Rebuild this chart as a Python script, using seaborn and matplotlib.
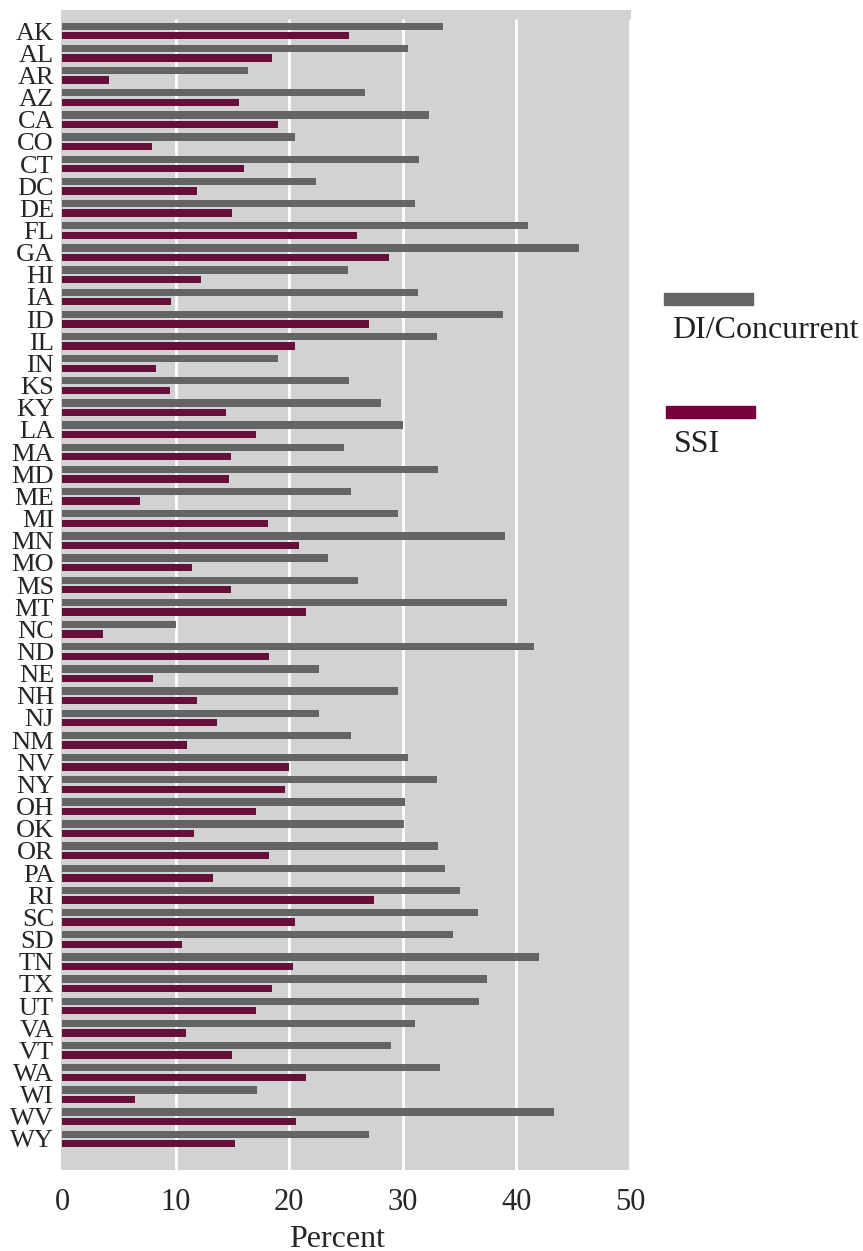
import matplotlib
matplotlib.use("Agg")
import matplotlib.pyplot as plt
from matplotlib.patches import Rectangle
import pandas as pd
import seaborn as sns

sns.set_theme(style="white")
plt.rcParams["font.family"] = ["Liberation Serif", "DejaVu Serif"]

states = ["AK", "AL", "AR", "AZ", "CA", "CO", "CT", "DC", "DE", "FL", "GA", "HI",
          "IA", "ID", "IL", "IN", "KS", "KY", "LA", "MA", "MD", "ME", "MI", "MN",
          "MO", "MS", "MT", "NC", "ND", "NE", "NH", "NJ", "NM", "NV", "NY", "OH",
          "OK", "OR", "PA", "RI", "SC", "SD", "TN", "TX", "UT", "VA", "VT", "WA",
          "WI", "WV", "WY"]
di_concurrent = [33.5, 30.5, 16.4, 26.7, 32.3, 20.5, 31.4, 22.4, 31.1, 41.0, 45.5, 25.2,
                 31.3, 38.8, 33.0, 19.0, 25.3, 28.1, 30.0, 24.8, 33.1, 25.4, 29.6, 39.0,
                 23.4, 26.1, 39.2, 10.0, 41.6, 22.6, 29.6, 22.6, 25.4, 30.5, 33.0, 30.2,
                 30.1, 33.1, 33.7, 35.0, 36.6, 34.4, 42.0, 37.4, 36.7, 31.1, 29.0, 33.3,
                 17.2, 43.3, 27.0]
ssi = [25.3, 18.5, 4.1, 15.6, 19.0, 7.9, 16.0, 11.9, 15.0, 26.0, 28.8, 12.2,
       9.6, 27.0, 20.5, 8.3, 9.5, 14.4, 17.1, 14.9, 14.7, 6.9, 18.1, 20.9,
       11.4, 14.9, 21.5, 3.6, 18.2, 8.0, 11.9, 13.6, 11.0, 20.0, 19.6, 17.1,
       11.65, 18.2, 13.3, 27.5, 20.5, 10.6, 20.3, 18.5, 17.1, 10.9, 15.0, 21.5,
       6.4, 20.6, 15.25]
groups = ["DI/Concurrent", "SSI"]
colors = ["#636466", "#76003B"]
xticks = [0, 10, 20, 30, 40, 50]

df = pd.concat([
    pd.DataFrame({"state": states, "group": groups[0], "pct": di_concurrent}),
    pd.DataFrame({"state": states, "group": groups[1], "pct": ssi}),
])

W, H = 863, 1251
fig = plt.figure(figsize=(W / 100, H / 100), dpi=100)
ax = fig.add_axes([61 / W, 1 - 1170 / H, 570 / W, 1160 / H])
ax.set_facecolor("#D1D2D4")

sns.barplot(data=df, y="state", x="pct", hue="group", hue_order=groups,
            palette=colors, orient="h", width=0.86, gap=0.23,
            linewidth=0, legend=False, ax=ax, zorder=3)

for x in xticks[1:]:
    ax.axvline(x, ymin=0, ymax=1 - 10 / 1160, color="white", lw=2, zorder=1)

ax.set_xlim(-0.1, 50.1)
ax.set_ylim(51.4, -0.95)
ax.set_xticks(xticks)
ax.set_xticklabels([str(t) for t in xticks])
ax.tick_params(axis="x", length=0, pad=13, labelsize=22)
ax.tick_params(axis="y", length=0, pad=5, labelsize=19)
ax.set_ylabel("")
ax.set_xlabel("Percent", fontsize=23)
ax.xaxis.set_label_coords(0.484, -0.047)
for s in ax.spines.values():
    s.set_visible(False)

# legend: swatch above its label
legend_items = [(293, 664, 316), (406, 666, 430)]
for (py, px, ty), name, c in zip(legend_items, groups, colors):
    fig.add_artist(Rectangle((px / W, 1 - (py + 12) / H), 89 / W, 12 / H,
                             transform=fig.transFigure, color=c))
    fig.text((px + 8) / W, 1 - ty / H, name, fontsize=23, va="top", ha="left",
             color="#231F20")

fig.savefig("out.png", dpi=100)
